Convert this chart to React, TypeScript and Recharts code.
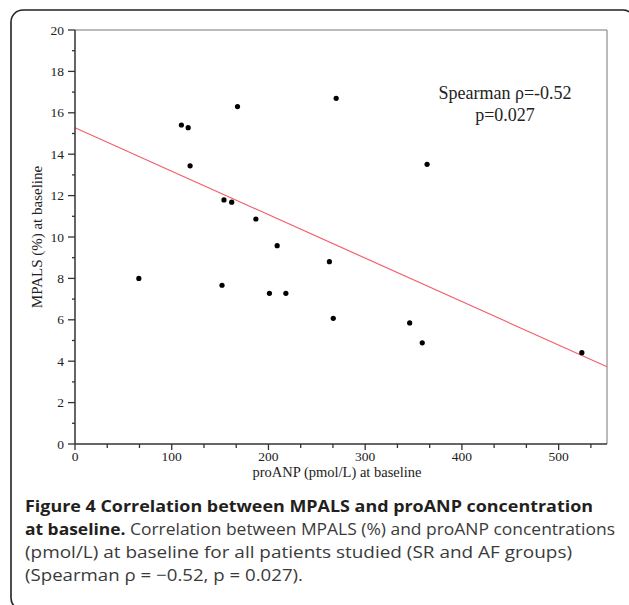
import { ReferenceLine, Scatter, ScatterChart, XAxis, YAxis } from "recharts";

// proANP (pmol/L) and MPALS (%) at baseline, one entry per patient
const proANP = [66, 110, 117, 119, 152, 154, 162, 168, 187, 201, 209, 218, 263, 267, 270, 346, 359, 364, 524];
const mpals = [8.0, 15.41, 15.28, 13.44, 7.67, 11.79, 11.68, 16.3, 10.87, 7.28, 9.58, 7.28, 8.81, 6.07, 16.7, 5.85, 4.89, 13.51, 4.41];

// fitted line end points
const fitX = [0, 550];
const fitY = [15.28, 3.73];

const xMajorTicks = [0, 100, 200, 300, 400, 500];
const xMinorTicks = [33.33, 66.67, 133.33, 166.67, 233.33, 266.67, 333.33, 366.67, 433.33, 466.67, 533.33];
const yMajorTicks = [0, 2, 4, 6, 8, 10, 12, 14, 16, 18, 20];
const yMinorTicks = [1, 3, 5, 7, 9, 11, 13, 15, 17, 19];

const points = proANP.map((x, i) => ({ x, y: mpals[i] }));
const fitLine = fitX.map((x, i) => ({ x, y: fitY[i] }));
const xTicks = [...xMajorTicks, ...xMinorTicks].sort((a, b) => a - b);
const yTicks = [...yMajorTicks, ...yMinorTicks].sort((a, b) => a - b);

const serif = "'Liberation Serif', 'Times New Roman', serif";
const sans = "'Open Sans', 'Noto Sans', sans-serif";

function XTick(props: any) {
  const { x, y, payload } = props;
  const major = xMajorTicks.includes(payload.value);
  return (
    <g>
      <line x1={x} x2={x} y1={y} y2={y + (major ? 6 : 4)} stroke="#333" strokeWidth={1.3} />
      {major && (
        <text x={x} y={y + 17} textAnchor="middle" fontFamily={serif} fontSize={13.5} fill="#222">
          {payload.value}
        </text>
      )}
    </g>
  );
}

function YTick(props: any) {
  const { x, y, payload } = props;
  const major = yMajorTicks.includes(payload.value);
  return (
    <g>
      <line x1={x - (major ? 7 : 3)} x2={x} y1={y} y2={y} stroke="#333" strokeWidth={1.3} />
      {major && (
        <text x={x - 11} y={y + 4.5} textAnchor="end" fontFamily={serif} fontSize={13.5} fill="#222">
          {payload.value}
        </text>
      )}
    </g>
  );
}

function Dot(props: any) {
  return <circle cx={props.cx} cy={props.cy} r={2.6} fill="#000" />;
}

export default function App() {
  return (
    <div style={{ position: "fixed", left: 0, top: 0, width: 629, height: 605, overflow: "hidden", background: "#fff" }}>
      <div style={{ position: "absolute", left: 0, top: 0 }}>
        <ScatterChart width={629} height={484} margin={{ top: 30, right: 22, bottom: 0, left: 0 }}>
          <XAxis
            type="number"
            dataKey="x"
            domain={[0, 550]}
            ticks={xTicks}
            interval={0}
            height={40}
            tickSize={0}
            tickMargin={0}
            tickLine={false}
            tick={<XTick />}
            axisLine={{ stroke: "#333", strokeWidth: 1.5 }}
            label={{
              content: (p: any) => (
                <text
                  x={p.viewBox.x + p.viewBox.width / 2 - 4}
                  y={p.viewBox.y + 33}
                  textAnchor="middle"
                  fontFamily={serif}
                  fontSize={14.5}
                  fill="#222"
                >
                  proANP (pmol/L) at baseline
                </text>
              ),
            }}
          />
          <YAxis
            type="number"
            dataKey="y"
            domain={[0, 20]}
            ticks={yTicks}
            interval={0}
            width={75}
            tickSize={0}
            tickMargin={0}
            tickLine={false}
            tick={<YTick />}
            axisLine={{ stroke: "#333", strokeWidth: 1.5 }}
            label={{
              content: (p: any) => {
                const cy = p.viewBox.y + p.viewBox.height / 2;
                return (
                  <text
                    x={42}
                    y={cy}
                    transform={`rotate(-90, 42, ${cy})`}
                    textAnchor="middle"
                    fontFamily={serif}
                    fontSize={15}
                    fill="#222"
                  >
                    MPALS (%) at baseline
                  </text>
                );
              },
            }}
          />
          <ReferenceLine y={20} stroke="#777" strokeWidth={1} />
          <ReferenceLine x={550} stroke="#777" strokeWidth={1} />
          <ReferenceLine segment={fitLine} stroke="#f2606e" strokeWidth={1.2} ifOverflow="extendDomain" />
          <Scatter data={points} shape={<Dot />} isAnimationActive={false} />
        </ScatterChart>
      </div>
      <svg width={629} height={605} style={{ position: "absolute", left: 0, top: 0, pointerEvents: "none" }}>
        <rect x={11} y={10} width={624} height={600} rx={12} fill="none" stroke="#222" strokeWidth={1.6} />
        <text x={505} y={99} textAnchor="middle" fontFamily={serif} fontSize={18} fill="#222">
          Spearman ρ=-0.52
        </text>
        <text x={505} y={120.5} textAnchor="middle" fontFamily={serif} fontSize={18} fill="#222">
          p=0.027
        </text>
        <g fontFamily={sans} fontSize={16.8}>
          <text x={25} y={512} fontWeight={700} fill="#231f20" textLength={568} lengthAdjust="spacingAndGlyphs">
            Figure 4 Correlation between MPALS and proANP concentration
          </text>
          <text x={25} y={535} fill="#3a3a3a" textLength={590} lengthAdjust="spacingAndGlyphs">
            <tspan fontWeight={700} fill="#231f20">at baseline.</tspan> Correlation between MPALS (%) and proANP concentrations
          </text>
          <text x={25} y={558} fill="#3a3a3a" textLength={547} lengthAdjust="spacingAndGlyphs">
            (pmol/L) at baseline for all patients studied (SR and AF groups)
          </text>
          <text x={25} y={581} fill="#3a3a3a" textLength={278} lengthAdjust="spacingAndGlyphs">
            (Spearman ρ = −0.52, p = 0.027).
          </text>
        </g>
      </svg>
    </div>
  );
}
